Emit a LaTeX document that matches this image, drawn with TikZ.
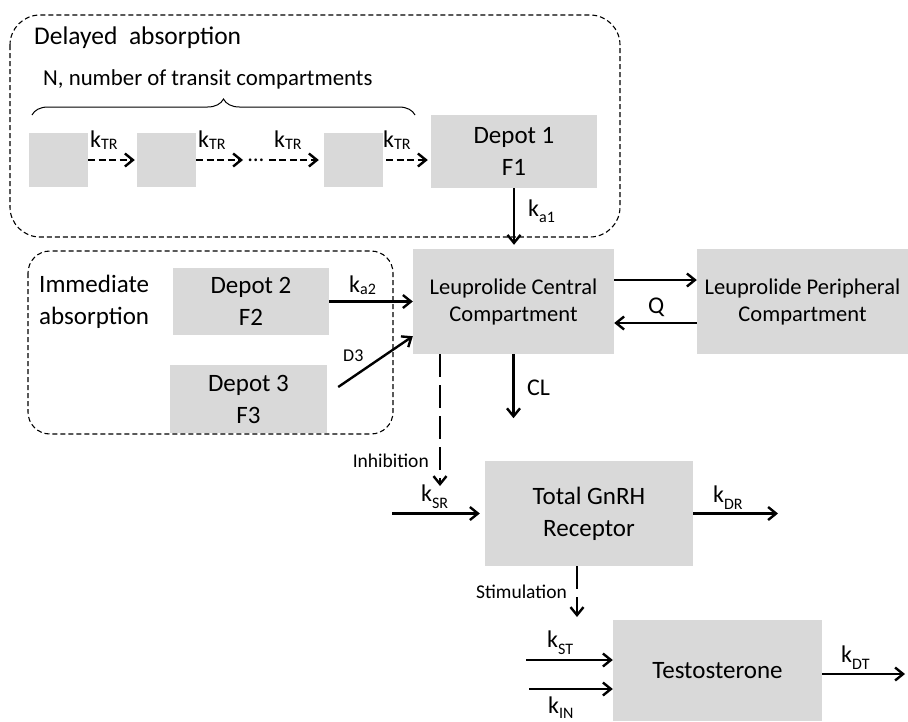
\documentclass[tikz,border=0pt]{standalone}
\usepackage{fontspec}
\setmainfont{Carlito}
\usetikzlibrary{arrows.meta,calc,decorations.pathreplacing}

\definecolor{boxgray}{RGB}{217,217,217}
\newcommand{\compfont}{\fontsize{25}{32}\selectfont}
\newcommand{\leufont}{\fontsize{22.5}{27}\selectfont}
\newcommand{\ratefont}{\fontsize{24}{28}\selectfont}
\newcommand{\notefont}{\fontsize{19.5}{23}\selectfont}
% rate constant k with a lowered index
\newcommand{\kr}[2][7pt]{k\raisebox{-#1}{\fontsize{16}{16}\selectfont #2}}

\begin{document}
\begin{tikzpicture}[x=1pt, y=-1pt,
    comp/.style={fill=boxgray, inner sep=0pt, align=center, font=\compfont},
    transitbox/.style={comp, minimum width=59pt, minimum height=54pt},
    flow/.style={line width=2.4pt, -{Straight Barb[length=8pt, width=13pt]}},
    transit/.style={flow, dash pattern=on 7pt off 3.5pt},
    effect/.style={flow, dash pattern=on 23pt off 8pt},
    group/.style={draw, line width=1.1pt, dash pattern=on 5pt off 3pt},
    rate/.style={font=\ratefont, inner sep=0pt, anchor=base west},
    note/.style={font=\notefont, inner sep=0pt}]
  \useasboundingbox (0,0) rectangle (908,721);

  % absorption groups
  \draw[group, rounded corners=30pt] (10,15) rectangle (620,237);
  \draw[group, rounded corners=22pt] (28,251) rectangle (393,434);
  \node[font=\fontsize{25.5}{30}\selectfont, inner sep=0pt, anchor=base west] (delayed) at (34,44) {Delayed\ \ absorption};
  \node[font=\fontsize{22.8}{27}\selectfont, inner sep=0pt, anchor=base west] (ntransit) at (43,85) {N, number of transit compartments};
  \draw[line width=1pt, decorate, decoration={brace, amplitude=16pt}] (32,115) -- (415,115);
  \node[font=\compfont, inner sep=0pt, align=left, anchor=west] (immediate) at (39,302) {Immediate\\absorption};

  % transit chain
  \node[transitbox] (tr1) at (58.5,160) {};
  \node[transitbox] (tr2) at (166.5,160) {};
  \node[font=\leufont, inner xsep=5pt, inner ysep=0pt] (dots) at (256,160) {…};
  \node[transitbox] (tr3) at (353.5,160) {};
  \node[comp, minimum width=166pt, minimum height=73pt] (dep1) at (514,151.5) {Depot 1\\F1};

  \draw[transit, shorten >=2pt] (tr1) -- (tr2);
  \draw[transit] (tr2) -- (dots);
  \draw[transit, shorten >=5pt] (dots) -- (tr3);
  \draw[transit, shorten <=3pt, shorten >=3pt] (tr3.east) -- (tr3.east -| dep1.west);
  \foreach \x [count=\i] in {90,198,274,383}
    \node[rate] (ktr\i) at (\x,147) {\kr[2pt]{TR}};

  % depots and leuprolide
  \node[comp, minimum width=156pt, minimum height=67pt] (dep2) at (251,301.5) {Depot 2\\F2};
  \node[comp, minimum width=157pt, minimum height=68pt] (dep3) at (248.5,399) {Depot 3\\F3};
  \node[comp, font=\leufont, minimum width=201pt, minimum height=105pt] (central) at (513.5,301.5) {Leuprolide Central\\Compartment};
  \node[comp, font=\leufont, minimum width=211pt, minimum height=105pt] (periph) at (802.5,301.5) {Leuprolide Peripheral\\Compartment};

  \draw[flow, shorten >=4pt] (dep1.south) -- (dep1.south |- central.north);
  \node[rate] (ka1) at (528,216) {\kr[6pt]{a1}};
  \draw[flow] (dep2) -- (central);
  \node[rate] (ka2) at (349,292) {\kr[2pt]{a2}};
  \coordinate (d3out) at ($(dep3.east)+(11,-12)$);
  \coordinate (d3in) at ($(central.south west)+(0,-18)$);
  \draw[flow] (d3out) -- (d3in);
  \node[note, font=\fontsize{18}{20}\selectfont, anchor=base west] (d3) at (343,361) {D3};
  \draw[flow] ([yshift=21.5pt]central.east) -- ([yshift=21.5pt]periph.west);
  \draw[flow] ([yshift=-21.5pt]periph.west) -- ([yshift=-21.5pt]central.east);
  \node[rate] (q) at (648,313) {Q};
  \coordinate (clout) at ($(central.south)+(0,64)$);
  \draw[flow] (central.south) -- (clout);
  \node[rate] (cl) at (527,395) {CL};

  % receptor and testosterone
  \node[comp, minimum width=208pt, minimum height=105pt] (gnrh) at (589,513.5) {Total GnRH\\Receptor};
  \node[comp, minimum width=209pt, minimum height=101pt] (testo) at (717.5,670.5) {Testosterone};

  \coordinate (inhend) at (440,486);
  \draw[effect] (central.south west -| inhend) -- (inhend);
  \node[note, anchor=base east] (inhib) at (429,467) {Inhibition};
  \coordinate (srin) at (392,513.5);
  \draw[flow, shorten >=5pt] (srin) -- (gnrh);
  \node[rate] (ksr) at (421,501) {\kr{SR}};
  \coordinate (drout) at (778,513.5);
  \draw[flow] (gnrh) -- (drout);
  \node[rate] (kdr) at (713,502) {\kr{DR}};

  \coordinate (stimend) at (577,617);
  \draw[effect] (gnrh.south -| stimend) -- (stimend);
  \node[note, anchor=base east] (stim) at (567,598) {Stimulation};
  \coordinate (stin) at (526,660);
  \draw[flow] (stin) -- (stin -| testo.west);
  \node[rate] (kst) at (547,647) {\kr{ST}};
  \coordinate (inin) at (529,689);
  \draw[flow] (inin) -- (inin -| testo.west);
  \node[rate] (kin) at (548,713) {\kr[5pt]{IN}};
  \coordinate (dtout) at (905,674);
  \draw[flow] (dtout -| testo.east) -- (dtout);
  \node[rate] (kdt) at (841,662) {\kr{DT}};
\end{tikzpicture}
\end{document}
